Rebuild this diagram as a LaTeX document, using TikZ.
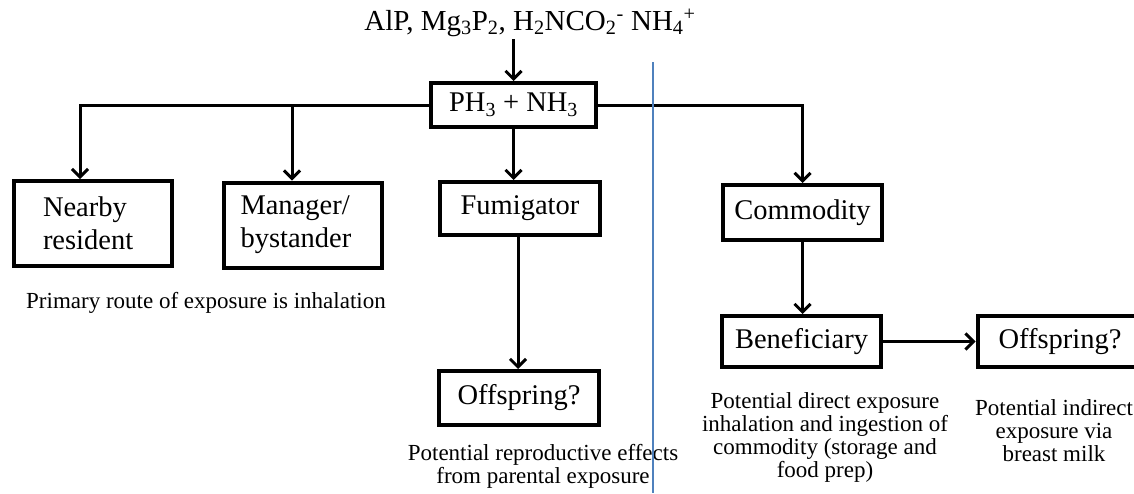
\documentclass[tikz,border=0pt]{standalone}
\usepackage{fontspec}
\setmainfont{Liberation Serif}
\usetikzlibrary{arrows.meta}
\definecolor{divblue}{RGB}{79,129,189}
\begin{document}
\begin{tikzpicture}[x=1pt,y=1pt,
  box/.style={draw, line width=4pt, inner sep=0pt, font=\fontsize{28.5}{33}\selectfont},
  leftbox/.style={box, align=left},
  arr/.style={line width=3pt, -{Straight Barb[length=8pt,width=16pt,line width=3pt]}},
  caption/.style={align=center, inner sep=0pt, font=\fontsize{23}{23}\selectfont},
  divider/.style={draw=divblue, line width=2.2pt}
]
\useasboundingbox (0,0) rectangle (1134,-493);
% top formula
\node[inner sep=0pt, font=\fontsize{29}{32}\selectfont, anchor=base] (top) at (530,-30)
  {AlP, Mg\textsubscript{3}P\textsubscript{2}, H\textsubscript{2}NCO\textsubscript{2}\textsuperscript{-} NH\textsubscript{4}\textsuperscript{+}};
% boxes
\node[box, minimum width=165pt, minimum height=44pt] (ph3) at (513.5,-105) {PH\textsubscript{3} + NH\textsubscript{3}};
\node[leftbox, minimum height=85pt, text width=100pt, inner xsep=29pt] (nearby) at (93,-223.5) {Nearby\\resident};
\node[leftbox, minimum height=85pt, text width=124pt, inner xsep=17pt] (manager) at (302.5,-225) {Manager/\\bystander};
\node[box, minimum width=160pt, minimum height=53pt] (fumig) at (520,-208.5) {Fumigator};
\node[box, minimum width=160pt, minimum height=54pt] (off1) at (519,-398) {Offspring?};
\node[box, minimum width=159pt, minimum height=55pt] (comm) at (802.5,-212.5) {Commodity};
\node[box, minimum width=159pt, minimum height=51pt] (benef) at (801.5,-341.5) {Beneficiary};
\node[box, minimum width=165pt, minimum height=51pt] (off2) at (1060,-341.5) {Offspring?};
% captions
\node[caption] (cap1) at (206,-303) {Primary route of exposure is inhalation};
\node[caption] (cap2) at (543,-466) {Potential reproductive effects\\from parental exposure};
\node[caption] (cap3) at (825,-437) {Potential direct exposure\\inhalation and ingestion of\\commodity (storage and\\food prep)};
\node[caption] (cap4) at (1054,-431) {Potential indirect\\exposure via\\breast milk};
% connectors
\draw[arr] (ph3.north |- top.south) ++(0,-3) -- (ph3.north);
\draw[arr] (ph3.west) -| ([xshift=-13pt]nearby.north);
\draw[arr] ([xshift=-10.5pt]manager.north |- ph3.west) -- ([xshift=-10.5pt]manager.north);
\draw[arr] (ph3.south) -- (ph3.south |- fumig.north);
\draw[arr] ([xshift=-2pt]fumig.south) -- ([xshift=-1pt]off1.north);
\draw[arr] (ph3.east) -| (comm.north);
\draw[arr] (comm.south) -- (comm.south |- benef.north);
\draw[arr] (benef.east) -- (off2.west);
% divider
\draw[divider] (653,-62) -- (653,-493);
\end{tikzpicture}
\end{document}
